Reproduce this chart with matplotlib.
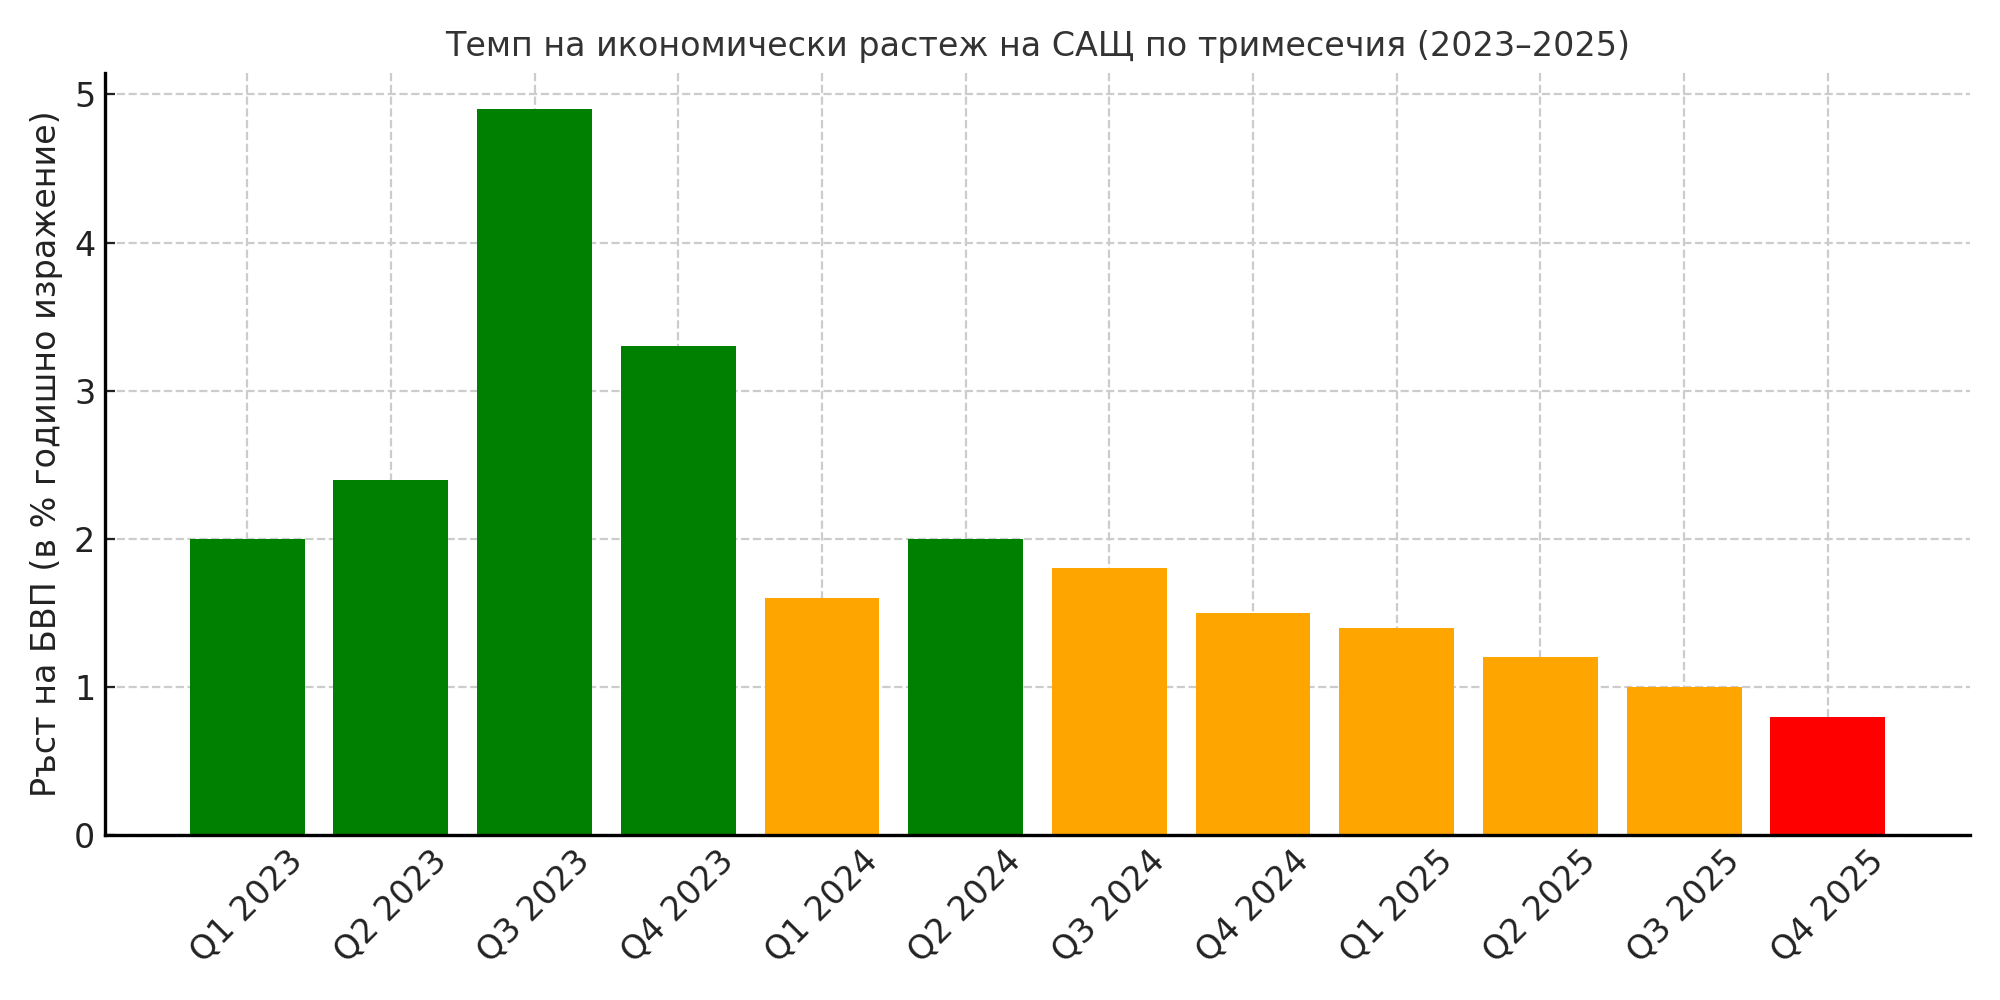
import matplotlib.pyplot as plt

quarters = ['Q1 2023', 'Q2 2023', 'Q3 2023', 'Q4 2023',
            'Q1 2024', 'Q2 2024', 'Q3 2024', 'Q4 2024',
            'Q1 2025', 'Q2 2025', 'Q3 2025', 'Q4 2025']
growth = [2.0, 2.4, 4.9, 3.3, 1.6, 2.0, 1.8, 1.5, 1.4, 1.2, 1.0, 0.8]
bar_colors = ['green', 'green', 'green', 'green', 'orange', 'green',
              'orange', 'orange', 'orange', 'orange', 'orange', 'red']


def main():
    plt.rcParams['font.family'] = ['DejaVu Sans']
    fig, ax = plt.subplots(figsize=(10, 5), dpi=200)

    ax.bar(quarters, growth, color=bar_colors, zorder=2)
    ax.set_title('Темп на икономически растеж на САЩ по тримесечия (2023–2025)',
                 fontsize=12, color='#333333')
    ax.set_ylabel('Ръст на БВП (в % годишно изражение)', fontsize=12, color='#222222')
    ax.tick_params(axis='both', direction='in', labelsize=12, colors='#222222')
    ax.tick_params(axis='x', rotation=45)
    ax.grid(True, linestyle='--', color='#cccccc', linewidth=0.8, zorder=3)
    ax.spines['top'].set_visible(False)
    ax.spines['right'].set_visible(False)
    ax.spines['left'].set_linewidth(1.2)
    ax.spines['bottom'].set_linewidth(1.2)

    fig.subplots_adjust(left=0.0525, right=0.985, top=0.927, bottom=0.165)
    fig.savefig('out.png')
    plt.close(fig)


if __name__ == '__main__':
    main()
